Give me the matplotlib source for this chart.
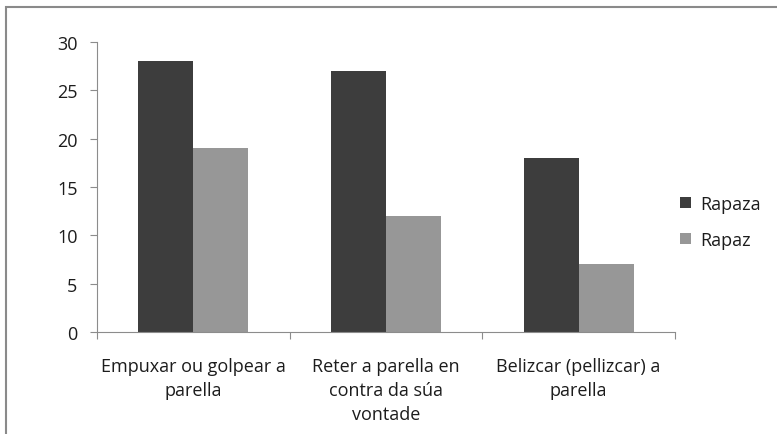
import matplotlib
matplotlib.use("Agg")
import matplotlib.pyplot as plt
from matplotlib.patches import Rectangle
import numpy as np

plt.rcParams['font.family'] = ['Open Sans', 'DejaVu Sans']

# values per category
categories = ["Empuxar ou golpear a\nparella",
              "Reter a parella en\ncontra da súa\nvontade",
              "Belizcar (pellizcar) a\nparella"]
rapaza = [28, 27, 18]
rapaz = [19, 12, 7]
series_names = ["Rapaza", "Rapaz"]
yticks = [0, 5, 10, 15, 20, 25, 30]

dark = "#3d3d3d"
light = "#979797"
axis_col = "#8c8c8c"
text_col = "#1c1c1c"

fig = plt.figure(figsize=(7.77, 4.35), dpi=100)
ax = fig.add_axes([97/777, 1 - 333/435, (675 - 97)/777, (333 - 43)/435])

# frame round the whole chart (right and bottom edges run off the canvas)
fig.patches.append(Rectangle((6/777, -1), 2, 2 - 8/435, transform=fig.transFigure,
                             fill=False, edgecolor="#8a8a8a", linewidth=1.5))

x = np.arange(len(categories)) + 0.5
w = 0.285
ax.bar(x - w/2, rapaza, w, color=dark, label=series_names[0])
ax.bar(x + w/2, rapaz, w, color=light, label=series_names[1])

ax.set_xlim(0, 3)
ax.set_ylim(0, 30)
ax.set_yticks(yticks)
ax.set_xticks([0, 1, 2, 3])
ax.set_xticklabels([])
ax.set_xticks(x, minor=True)
ax.set_xticklabels(categories, minor=True, fontsize=13, color=text_col, linespacing=1.42)
ax.tick_params(axis='x', which='minor', length=0, pad=18)
ax.tick_params(axis='x', which='major', length=5, color=axis_col)
ax.tick_params(axis='y', length=5, color=axis_col, labelsize=13, labelcolor=text_col, pad=9)

for s in ['top', 'right']:
    ax.spines[s].set_visible(False)
for s in ['left', 'bottom']:
    ax.spines[s].set_color(axis_col)

leg = ax.legend(loc='center left', bbox_to_anchor=(1.0, 0.38), frameon=False, fontsize=13,
                handlelength=0.6, handleheight=0.6, handletextpad=0.5, labelspacing=1.0,
                borderaxespad=0.0, borderpad=0.3)
for t in leg.get_texts():
    t.set_color(text_col)

fig.savefig("out.png", dpi=100)
